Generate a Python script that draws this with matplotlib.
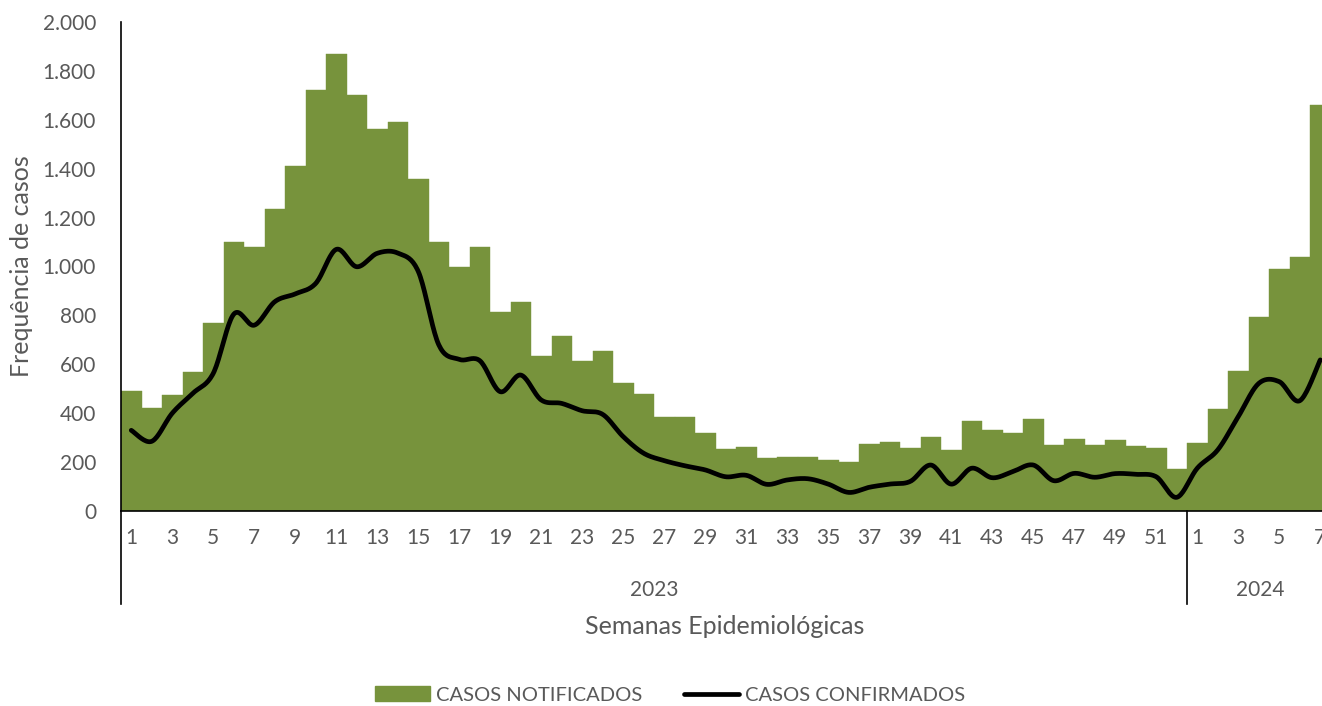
import numpy as np
import matplotlib
matplotlib.use("Agg")
import matplotlib.pyplot as plt
from matplotlib.lines import Line2D
from matplotlib.patches import Patch
from matplotlib.ticker import FuncFormatter
import matplotlib.transforms as mtransforms

# ---- data ----
weeks_2023 = list(range(1, 53))
weeks_2024 = list(range(1, 8))
notificados_2023 = [490, 420, 475, 570, 770, 1100, 1080, 1235, 1410, 1720, 1870, 1703, 1561, 1590,
                    1359, 1099, 1000, 1081, 815, 856, 634, 717, 613, 654, 523, 480, 386, 383, 320,
                    254, 262, 217, 222, 220, 210, 199, 275, 281, 258, 304, 250, 367, 331, 319, 378,
                    270, 293, 270, 290, 267, 259, 172]
notificados_2024 = [278, 416, 574, 793, 990, 1038, 1660]
confirmados_2023 = [330, 285, 400, 481, 563, 805, 760, 856, 888, 931, 1070, 999, 1054, 1055, 980,
                    680, 620, 615, 488, 556, 454, 440, 410, 395, 304, 236, 206, 185, 168, 140, 146,
                    109, 127, 132, 110, 76, 97, 110, 121, 188, 110, 175, 136, 161, 188, 124, 154,
                    138, 153, 150, 140, 56]
confirmados_2024 = [175, 250, 386, 522, 529, 451, 618]
years = ["2023", "2024"]

notificados = notificados_2023 + notificados_2024
confirmados = confirmados_2023 + confirmados_2024
week_labels = weeks_2023 + weeks_2024
n = len(notificados)
x = np.arange(n)

GREEN = "#77933C"
GRAY = "#595959"
FONT = ["Lato", "DejaVu Sans"]
plt.rcParams["font.family"] = FONT

W, H = 1322, 706
fig = plt.figure(figsize=(W / 100, H / 100), dpi=100)
left_px, right_px, top_px, bottom_px = 121, 1322, 22, 511
ax = fig.add_axes([left_px / W, 1 - bottom_px / H, (right_px - left_px) / W, (bottom_px - top_px) / H])

ax.bar(x, notificados, width=1.0, color=GREEN, edgecolor=GREEN, linewidth=0.3, zorder=2)


def smooth(xs, ys, per=20):
    px = np.asarray(xs, float)
    py = np.asarray(ys, float)
    P = np.column_stack([px, py])
    Pext = np.vstack([P[0], P, P[-1]])
    out = []
    t = np.linspace(0, 1, per, endpoint=False)
    for i in range(len(P) - 1):
        p0, p1, p2, p3 = Pext[i], Pext[i + 1], Pext[i + 2], Pext[i + 3]
        c1 = p1 + (p2 - p0) / 6
        c2 = p2 - (p3 - p1) / 6
        seg = ((1 - t)[:, None] ** 3 * p1 + 3 * ((1 - t) ** 2 * t)[:, None] * c1
               + 3 * ((1 - t) * t ** 2)[:, None] * c2 + (t ** 3)[:, None] * p2)
        out.append(seg)
    out.append(P[-1][None, :])
    out = np.vstack(out)
    return out[:, 0], out[:, 1]


sx, sy = smooth(x, confirmados)
ax.plot(sx, sy, color="black", lw=3.4, solid_capstyle="round", zorder=3)

right_data = (right_px - left_px) / 20.5 - 0.5
ax.set_xlim(-0.5, right_data)
ax.set_ylim(0, 2000)
ax.set_yticks(np.arange(0, 2001, 200))
ax.yaxis.set_major_formatter(FuncFormatter(lambda v, p: f"{int(v):,}".replace(",", ".")))
ax.tick_params(axis="y", length=0, labelsize=15, labelcolor=GRAY, pad=18)

tick_pos = [i for i in range(n) if week_labels[i] % 2 == 1]
ax.set_xticks(tick_pos)
ax.set_xticklabels([str(week_labels[i]) for i in tick_pos])
ax.tick_params(axis="x", length=0, labelsize=15, labelcolor=GRAY, pad=12)

for s in ["top", "right"]:
    ax.spines[s].set_visible(False)
ax.spines["left"].set_color("black")
ax.spines["bottom"].set_color("black")
ax.spines["left"].set_linewidth(1.2)
ax.spines["bottom"].set_linewidth(1.2)

trans = mtransforms.blended_transform_factory(ax.transData, ax.transAxes)
ext = -(604 - 511) / (bottom_px - top_px)
for xv in [-0.5, 51.5]:
    ax.add_line(Line2D([xv, xv], [0, ext], transform=trans, color="black", lw=1.2, clip_on=False))

ax.text(25.5, -(590 - 511) / (bottom_px - top_px), years[0], transform=trans, ha="center", va="center",
        fontsize=15, color=GRAY)
ax.text((1260 - left_px) / 20.5 - 0.5, -(590 - 511) / (bottom_px - top_px), years[1], transform=trans,
        ha="center", va="center", fontsize=15, color=GRAY)

fig.text(725 / W, 1 - 627 / H, "Semanas Epidemiológicas", ha="center", va="center", fontsize=18, color=GRAY)
fig.text(22 / W, 1 - 266 / H, "Frequência de casos", ha="center", va="center", rotation=90,
         fontsize=18, color=GRAY)

handles = [Patch(facecolor=GREEN, edgecolor=GREEN), Line2D([0], [0], color="black", lw=3.4, solid_capstyle="round")]
leg = fig.legend(handles, ["CASOS NOTIFICADOS", "CASOS CONFIRMADOS"], loc="center",
                 bbox_to_anchor=(670 / W, 1 - 695 / H), ncol=2, frameon=False, fontsize=14.5,
                 handlelength=2.7, handleheight=0.75, handletextpad=0.3, columnspacing=2.1,
                 labelcolor=GRAY)

fig.savefig("out.png", dpi=100)
